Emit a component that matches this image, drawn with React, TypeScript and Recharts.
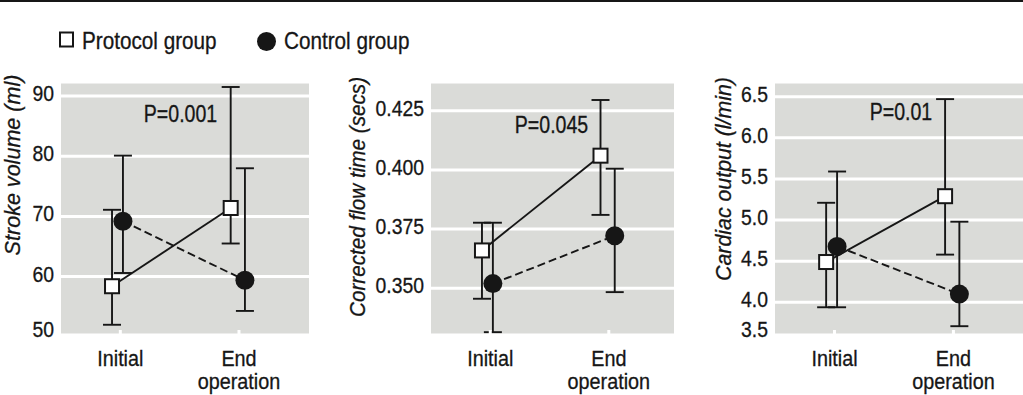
import React from 'react';
import { ComposedChart, Line, XAxis, YAxis, CartesianGrid, ErrorBar, Legend, Label } from 'recharts';

// ---------- data ----------
const CATEGORIES = ['Initial', 'End operation'];
const SERIES_NAMES = ['Protocol group', 'Control group'];

// Stroke volume (ml)
const SV_PROTOCOL = [58.4, 71.4];
const SV_PROTOCOL_LO = [52.0, 65.5];
const SV_PROTOCOL_HI = [71.1, 91.5];
const SV_CONTROL = [69.2, 59.4];
const SV_CONTROL_LO = [60.6, 54.3];
const SV_CONTROL_HI = [80.1, 78.0];
const SV_TICKS = [50, 60, 70, 80, 90];

// Corrected flow time (secs)
const CFT_PROTOCOL = [0.366, 0.406];
const CFT_PROTOCOL_LO = [0.3456, 0.381];
const CFT_PROTOCOL_HI = [0.3777, 0.4295];
const CFT_CONTROL = [0.352, 0.3722];
const CFT_CONTROL_LO = [0.3315, 0.3484];
const CFT_CONTROL_HI = [0.3777, 0.4005];
const CFT_TICKS = [0.35, 0.375, 0.4, 0.425];

// Cardiac output (l/min)
const CO_PROTOCOL = [4.49, 5.29];
const CO_PROTOCOL_LO = [3.94, 4.58];
const CO_PROTOCOL_HI = [5.21, 6.47];
const CO_CONTROL = [4.68, 4.1];
const CO_CONTROL_LO = [3.94, 3.71];
const CO_CONTROL_HI = [5.59, 4.98];
const CO_TICKS = [3.5, 4, 4.5, 5, 5.5, 6, 6.5];

const P_TEXTS = ['P=0.001', 'P=0.045', 'P=0.01'];
const Y_LABELS = ['Stroke volume (ml)', 'Corrected flow time (secs)', 'Cardiac output (l/min)'];

// ---------- style / layout ----------
const FONT = "'Liberation Sans', Arial, sans-serif";
const INK = '#161616';
const BG = '#dadbd8';
const PLOT_TOP = 82;
const CHART_H = 395;
const X_AXIS_H = 60;
const PLOT_BOTTOM = CHART_H - X_AXIS_H;
const PROTO_DODGE = [-0.07, -0.07];
const CTRL_DODGE = [0.022, 0.05];
const TEXT_STROKE = { stroke: INK, strokeWidth: 0.3 };

function buildRows(values: number[], lo: number[], hi: number[], dodge: number[]) {
  return CATEGORIES.map((_, i) => ({
    x: i + dodge[i],
    v: values[i],
    err: [values[i] - lo[i], hi[i] - values[i]],
  }));
}

const SquareDot = (props: any) => {
  const { cx, cy, index } = props;
  if (cx == null || cy == null) return <g key={`sq-${index}`} />;
  return (
    <rect key={`sq-${index}`} x={cx - 7} y={cy - 7} width={14} height={14} fill="#fff" stroke={INK} strokeWidth={2} />
  );
};

const CircleDot = (props: any) => {
  const { cx, cy, index } = props;
  if (cx == null || cy == null) return <g key={`ci-${index}`} />;
  return <circle key={`ci-${index}`} cx={cx} cy={cy} r={9.5} fill={INK} stroke="none" />;
};

const XTick = (props: any) => {
  const { x, y, payload } = props;
  const name = CATEGORIES[Math.round(payload.value)] ?? '';
  const lines = name.split(' ');
  return (
    <g>
      <line x1={x} x2={x} y1={y - 5} y2={y} stroke="#fff" strokeWidth={3} />
      {lines.map((l, i) => (
        <text
          key={i}
          transform={`translate(${x},${y + 31 + i * 23}) scale(0.9,1)`}
          textAnchor="middle"
          fontSize={22}
          fontFamily={FONT}
          fill={INK}
          {...TEXT_STROKE}
        >
          {l}
        </text>
      ))}
    </g>
  );
};

const makeYTick = (decimals: number) => (props: any) => {
  const { x, y, payload } = props;
  const by = Math.min(y + 5, PLOT_BOTTOM + 2);
  return (
    <text
      transform={`translate(${x - 7},${by}) scale(0.88,1)`}
      textAnchor="end"
      fontSize={22}
      fontFamily={FONT}
      fill={INK}
      {...TEXT_STROKE}
    >
      {Number(payload.value).toFixed(decimals)}
    </text>
  );
};

const LegendBox = () => (
  <svg width={440} height={60} style={{ display: 'block' }}>
    <rect x={60} y={32.5} width={13} height={14} fill="#fff" stroke={INK} strokeWidth={2} />
    <text transform="translate(82,48.5) scale(0.9,1)" fontSize={23} fontFamily={FONT} fill={INK} {...TEXT_STROKE}>
      {SERIES_NAMES[0]}
    </text>
    <circle cx={266.5} cy={41.5} r={9.5} fill={INK} />
    <text transform="translate(284,48.5) scale(0.9,1)" fontSize={23} fontFamily={FONT} fill={INK} {...TEXT_STROKE}>
      {SERIES_NAMES[1]}
    </text>
  </svg>
);

type PanelProps = {
  left: number;
  width: number;
  yAxisWidth: number;
  marginRight: number;
  yDomain: [number, number];
  xDomain: [number, number];
  yTicks: number[];
  decimals: number;
  yLabel: string;
  labelDx: number;
  labelDy: number;
  labelScale: number;
  pText: string;
  pDx: number;
  pDy: number;
  protocol: [number[], number[], number[]];
  control: [number[], number[], number[]];
  showLegend?: boolean;
};

function Panel(p: PanelProps) {
  const protoRows = buildRows(p.protocol[0], p.protocol[1], p.protocol[2], PROTO_DODGE);
  const ctrlRows = buildRows(p.control[0], p.control[1], p.control[2], CTRL_DODGE);
  const YTick = makeYTick(p.decimals);
  return (
    <div style={{ position: 'absolute', left: p.left, top: 0 }}>
      <ComposedChart
        width={p.width}
        height={CHART_H}
        margin={{ top: PLOT_TOP, right: p.marginRight, bottom: 0, left: 0 }}
      >
        <CartesianGrid vertical={false} stroke="#fff" strokeWidth={3} fill={BG} fillOpacity={1} />
        <XAxis
          type="number"
          dataKey="x"
          domain={p.xDomain}
          ticks={[0, 1]}
          allowDataOverflow
          axisLine={false}
          tickLine={false}
          tickSize={0}
          tickMargin={0}
          height={X_AXIS_H}
          interval={0}
          tick={<XTick />}
        />
        <YAxis
          type="number"
          domain={p.yDomain}
          ticks={p.yTicks}
          allowDataOverflow
          axisLine={false}
          tickLine={false}
          tickSize={0}
          tickMargin={0}
          width={p.yAxisWidth}
          interval={0}
          tick={<YTick />}
        >
          <Label
            content={(lp: any) => {
              const vb = lp.viewBox || { x: 0, y: PLOT_TOP };
              return (
                <text
                  transform={`translate(${vb.x + p.labelDx},${vb.y + p.labelDy}) rotate(-90) scale(${p.labelScale},1)`}
                  textAnchor="middle"
                  fontSize={22}
                  fontStyle="italic"
                  fontFamily={FONT}
                  fill={INK}
                  {...TEXT_STROKE}
                >
                  {p.yLabel}
                </text>
              );
            }}
          />
          <Label
            content={(lp: any) => {
              const vb = lp.viewBox || { x: 0, y: PLOT_TOP };
              return (
                <text
                  transform={`translate(${vb.x + p.pDx},${vb.y + p.pDy}) scale(0.85,1)`}
                  textAnchor="middle"
                  fontSize={23}
                  fontFamily={FONT}
                  fill={INK}
                  {...TEXT_STROKE}
                >
                  {p.pText}
                </text>
              );
            }}
          />
        </YAxis>
        <Line
          name={SERIES_NAMES[0]}
          data={protoRows}
          dataKey="v"
          type="linear"
          stroke={INK}
          strokeWidth={1.9}
          dot={SquareDot}
          activeDot={false}
          isAnimationActive={false}
        >
          <ErrorBar dataKey="err" width={9} strokeWidth={1.9} stroke={INK} direction="y" />
        </Line>
        <Line
          name={SERIES_NAMES[1]}
          data={ctrlRows}
          dataKey="v"
          type="linear"
          stroke={INK}
          strokeWidth={1.9}
          strokeDasharray="8 4"
          dot={CircleDot}
          activeDot={false}
          isAnimationActive={false}
        >
          <ErrorBar dataKey="err" width={9} strokeWidth={1.9} stroke={INK} direction="y" />
        </Line>
        {p.showLegend && (
          <Legend
            layout="horizontal"
            verticalAlign="middle"
            align="center"
            content={<LegendBox />}
            wrapperStyle={{ left: 0, top: 0, width: 440, height: 60 }}
          />
        )}
      </ComposedChart>
    </div>
  );
}

export default function App() {
  return (
    <div style={{ position: 'absolute', left: 0, top: 0, width: 1023, height: 395, background: '#fff', overflow: 'hidden' }}>
      <div style={{ position: 'absolute', left: 0, top: 0, width: 1023, height: 2, background: INK }} />
      <Panel
        left={0}
        width={330}
        yAxisWidth={61}
        marginRight={21}
        yDomain={[50.3, 92.33]}
        xDomain={[-0.5, 1.59]}
        yTicks={SV_TICKS}
        decimals={0}
        yLabel={Y_LABELS[0]}
        labelDx={20}
        labelDy={83}
        labelScale={0.98}
        pText={P_TEXTS[0]}
        pDx={180.5}
        pDy={40}
        protocol={[SV_PROTOCOL, SV_PROTOCOL_LO, SV_PROTOCOL_HI]}
        control={[SV_CONTROL, SV_CONTROL_LO, SV_CONTROL_HI]}
        showLegend
      />
      <Panel
        left={340}
        width={340}
        yAxisWidth={91}
        marginRight={6}
        yDomain={[0.3303, 0.4371]}
        xDomain={[-0.5, 1.55]}
        yTicks={CFT_TICKS}
        decimals={3}
        yLabel={Y_LABELS[1]}
        labelDx={25}
        labelDy={115}
        labelScale={0.94}
        pText={P_TEXTS[1]}
        pDx={211.5}
        pDy={51}
        protocol={[CFT_PROTOCOL, CFT_PROTOCOL_LO, CFT_PROTOCOL_HI]}
        control={[CFT_CONTROL, CFT_CONTROL_LO, CFT_CONTROL_HI]}
      />
      <Panel
        left={680}
        width={343}
        yAxisWidth={95}
        marginRight={0}
        yDomain={[3.603, 6.678]}
        xDomain={[-0.5, 1.585]}
        yTicks={CO_TICKS}
        decimals={1}
        yLabel={Y_LABELS[2]}
        labelDx={51}
        labelDy={97}
        labelScale={0.97}
        pText={P_TEXTS[2]}
        pDx={221}
        pDy={38}
        protocol={[CO_PROTOCOL, CO_PROTOCOL_LO, CO_PROTOCOL_HI]}
        control={[CO_CONTROL, CO_CONTROL_LO, CO_CONTROL_HI]}
      />
    </div>
  );
}
